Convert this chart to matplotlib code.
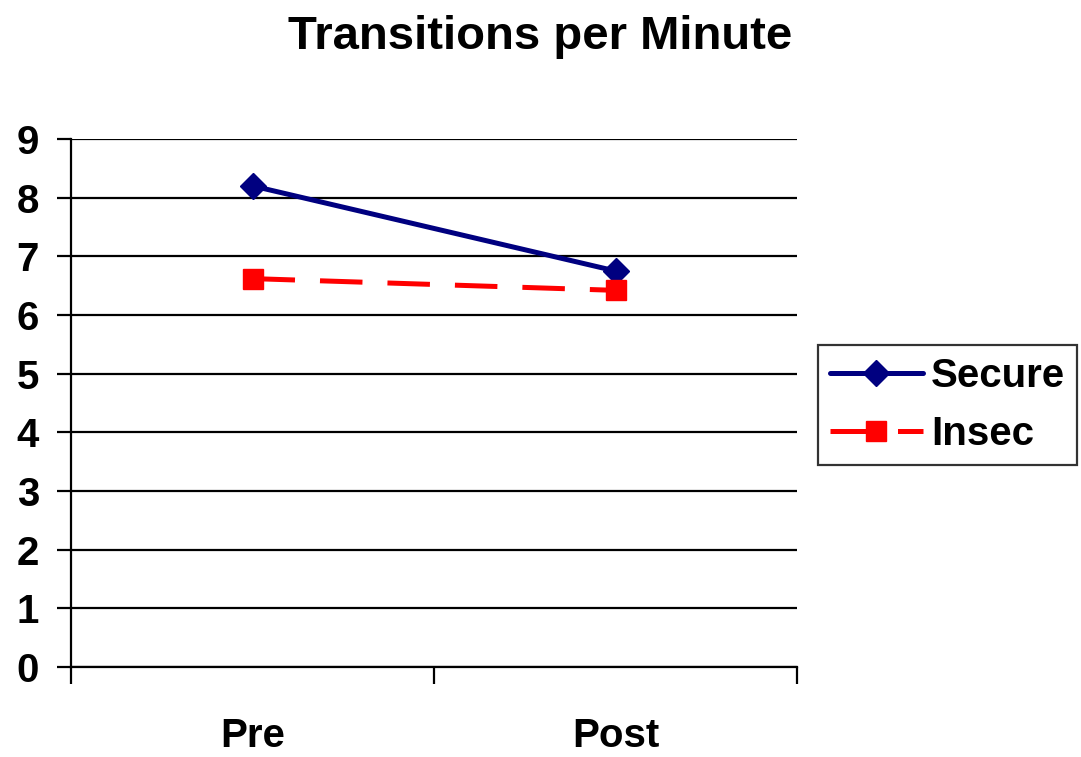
import matplotlib.pyplot as plt

plt.rcParams['font.family'] = ['Liberation Sans', 'DejaVu Sans']
plt.rcParams['font.weight'] = 'bold'

phases = ["Pre", "Post"]
secure = [8.2, 6.75]
insec = [6.62, 6.42]
y_ticks = list(range(0, 10))

fig = plt.figure(figsize=(10.81, 7.57), dpi=100)
ax = fig.add_axes([0.0657, 0.1189, 0.6716, 0.6975])

x = [0.5, 1.5]
ax.plot(x, secure, color="#000080", linewidth=3.6, marker="D", markersize=13.5,
        label="Secure", solid_capstyle="round")
ax.plot(x, insec, color="#ff0000", linewidth=3.6, marker="s", markersize=14.5,
        dashes=(8.5, 5), label="Insec")

ax.set_xlim(0, 2)
ax.set_ylim(0, 9)
ax.set_yticks(y_ticks)
ax.set_yticklabels([str(v) for v in y_ticks], fontsize=29, fontweight="bold")
ax.yaxis.grid(True, color="black", linewidth=1.6)
ax.set_axisbelow(True)

ax.set_xticks(x)
ax.set_xticklabels(phases, fontsize=29, fontweight="bold")
ax.set_xticks([0, 1, 2], minor=True)
ax.tick_params(axis="x", which="major", length=0, pad=36)
ax.tick_params(axis="x", which="minor", length=12, width=1.6, direction="out")
ax.tick_params(axis="y", length=10, width=1.6, direction="out", pad=13)

for side in ["top", "right"]:
    ax.spines[side].set_visible(False)
for side in ["left", "bottom"]:
    ax.spines[side].set_linewidth(1.6)

fig.suptitle("Transitions per Minute", fontsize=34, fontweight="bold",
             x=0.5, y=0.98)

leg = ax.legend(loc="center left", bbox_to_anchor=(818 / 1081, 1 - 405 / 757),
                bbox_transform=fig.transFigure, fontsize=29, frameon=True,
                fancybox=False, handlelength=2.3, handletextpad=0.2,
                borderpad=0.3, labelspacing=0.5, borderaxespad=0)
leg.get_frame().set_edgecolor("black")
leg.get_frame().set_linewidth(1.6)

fig.savefig("out.png", dpi=100)
